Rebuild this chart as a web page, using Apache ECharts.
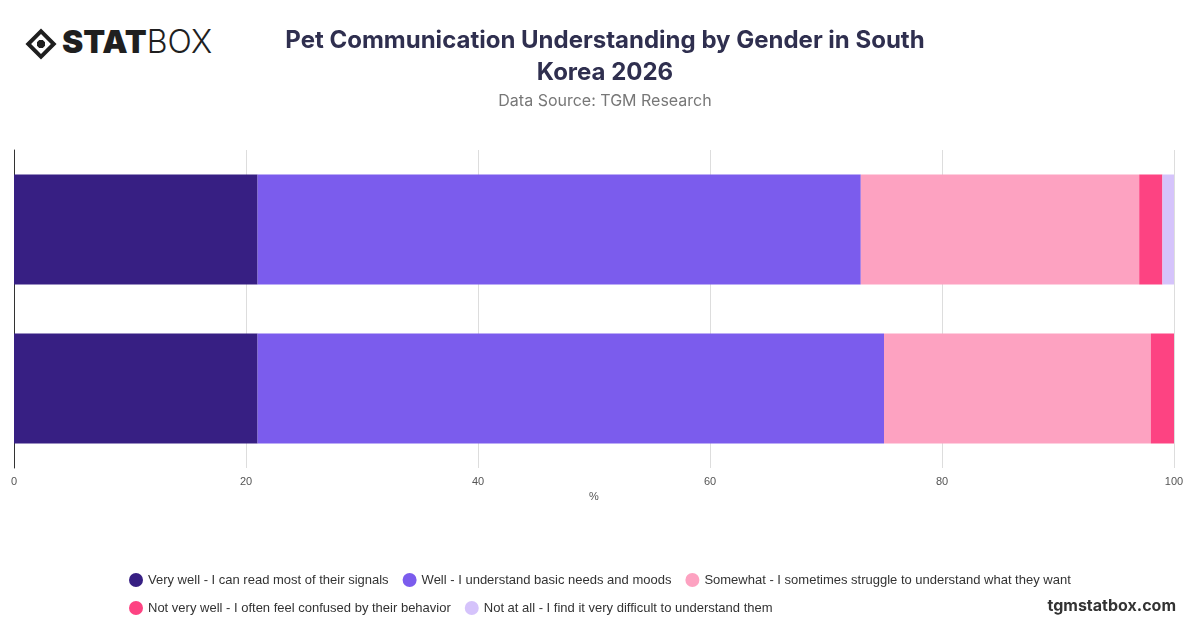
<!DOCTYPE html>
<html>
<head>
<meta charset="UTF-8" />
<script src="https://cdn.jsdelivr.net/npm/echarts@6/dist/echarts.min.js"></script>
<style>
  body { margin: 0; background: #fff; font-family: Inter, "Noto Sans", sans-serif; }
  #chart { width: 1200px; height: 628px; }
  .logo { position: absolute; left: 26px; top: 22px; font: 900 32px Inter, sans-serif; color: #1f1f1f; }
  .logo span { font-weight: 300; }
  .logo i { display: inline-block; width: 22px; height: 22px; border: 4px solid #1f1f1f; transform: rotate(45deg); margin: 0 10px 0 4px; vertical-align: -2px; box-sizing: border-box; background: radial-gradient(#1f1f1f 40%, #fff 45%); }
</style>
</head>
<body>
<div class="logo"><i></i>STAT<span>BOX</span></div>
<div id="chart"></div>
<script>
  // data
  const genders = ['Female', 'Male'];
  const seriesNames = [
    'Very well - I can read most of their signals',
    'Well - I understand basic needs and moods',
    'Somewhat - I sometimes struggle to understand what they want',
    'Not very well - I often feel confused by their behavior',
    'Not at all - I find it very difficult to understand them'
  ];
  const colors = ['#371f83', '#7b5ced', '#fda2c1', '#fd4382', '#d5c3fb'];
  const values = [
    [21, 21],
    [54, 52],
    [23, 24],
    [2, 2],
    [0, 1]
  ];

  let myChart = echarts.init(document.getElementById('chart'));
  myChart.setOption({
    animation: false,
    title: {
      text: 'Pet Communication Understanding by Gender in South\nKorea 2026',
      subtext: 'Data Source: TGM Research',
      left: 600, textAlign: 'center', top: 20,
      textStyle: { fontSize: 24, fontWeight: 'bold', color: '#2f2f4f', lineHeight: 32, fontFamily: 'Inter' },
      subtextStyle: { fontSize: 16, color: '#777', fontFamily: 'Inter' },
      itemGap: 4
    },
    grid: { left: 14, right: 26, top: 150, bottom: 160 },
    legend: {
      bottom: 8, left: 124, width: 980, itemWidth: 14, itemHeight: 14, icon: 'circle', itemGap: 14,
      textStyle: { fontSize: 13, color: '#333' },
      data: seriesNames
    },
    graphic: [{ type: 'text', right: 24, bottom: 14, style: { text: 'tgmstatbox.com', font: 'bold 16px Inter', fill: '#333' } }],
    xAxis: {
      type: 'value', min: 0, max: 100, interval: 20, name: '%', nameLocation: 'middle', nameGap: 20,
      nameTextStyle: { fontSize: 11, color: '#555' },
      axisLabel: { fontSize: 11, color: '#555' },
      axisLine: { show: false },
      splitLine: { lineStyle: { color: '#ddd' } }
    },
    yAxis: {
      type: 'category', data: genders,
      axisLabel: { show: false }, axisTick: { show: false },
      axisLine: { show: true, lineStyle: { color: '#333' } }
    },
    series: seriesNames.map((n, i) => ({
      name: n, type: 'bar', stack: 'a', barWidth: 110,
      itemStyle: { color: colors[i] },
      data: values[i]
    }))
  });
</script>
</body>
</html>
